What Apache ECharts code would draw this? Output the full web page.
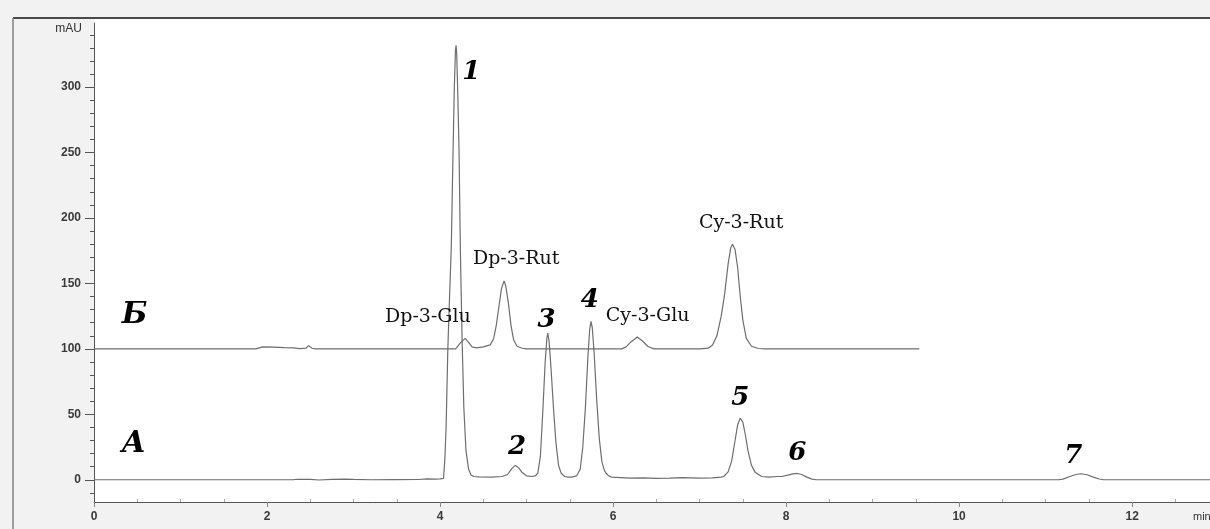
<!DOCTYPE html>
<html>
<head>
<meta charset="utf-8">
<script src="https://cdn.jsdelivr.net/npm/echarts@6/dist/echarts.min.js"></script>
<style>
html,body{margin:0;padding:0;background:#f2f2f2;}
#chart{width:1210px;height:529px;}
</style>
</head>
<body>
<div id="chart"></div>
<script>
// ---- data (time in min, absorbance in mAU) ----
const traceA = [
  [0,0],[2.3,0],[2.35,0.4],[2.5,0.3],[2.6,-0.2],[2.75,0.3],[2.9,0.5],[3.0,0.3],[3.2,0],[3.5,0.1],
  [3.75,0.2],[3.85,0.6],[3.95,0.5],[4.0,0.6],
  [4.04,1],[4.055,15],[4.07,40],[4.09,100],[4.11,140],[4.13,178],[4.15,250],[4.165,300],[4.178,328],
  [4.185,332],[4.193,325],[4.205,295],[4.22,250],[4.235,175],[4.255,107],[4.275,55],[4.3,22],
  [4.33,8],[4.36,3.5],[4.39,2.5],
  [4.45,2.2],[4.6,2],[4.72,2.5],[4.78,4],[4.83,8.5],[4.87,11],[4.91,9],[4.95,5.5],[5.0,3],[5.06,2.5],
  [5.1,3],[5.13,5],[5.16,18],[5.19,55],[5.215,90],[5.235,108],[5.245,112],[5.26,106],[5.28,88],
  [5.31,56],[5.34,28],[5.37,11],[5.4,5],[5.44,2.5],[5.48,2],
  [5.52,2],[5.58,3],[5.62,8],[5.65,25],[5.68,55],[5.71,95],[5.73,115],[5.745,121],[5.76,116],
  [5.78,98],[5.81,62],[5.84,32],[5.87,14],[5.9,7],[5.92,5],[5.95,3],[5.98,2],
  [6.0,1.8],[6.2,1.2],[6.35,1.5],[6.5,1.0],[6.65,1.2],[6.8,1.6],[7.0,1.2],[7.15,1.4],[7.25,2],
  [7.28,2.5],[7.33,6],[7.37,14],[7.41,30],[7.44,42],[7.47,47],[7.5,44],[7.53,34],[7.56,22],
  [7.6,11],[7.64,6],[7.68,4],[7.72,2.5],[7.8,2],[7.9,2.5],
  [7.95,2.5],[8.02,3.5],[8.08,4.5],[8.13,4.8],[8.18,4],[8.24,2],[8.3,0.5],[8.35,0],
  [9,0],[10,0],[11.15,0],[11.2,0.5],[11.28,2.5],[11.35,4],[11.41,4.6],[11.48,3.8],[11.55,2],
  [11.62,0.6],[11.67,0],[12.9,0]
];
const traceB = [
  [0,100],[1.87,100],[1.95,101.5],[2.08,101.3],[2.2,101],[2.3,100.8],[2.38,100.2],[2.45,100.5],
  [2.48,102.5],[2.52,100.5],[2.56,100],[4.18,100],
  [4.2,101],[4.24,105],[4.29,108],[4.33,105],[4.37,101.5],[4.42,100.8],[4.5,101.5],
  [4.58,103],[4.62,108],[4.65,118],[4.68,132],[4.71,146],[4.74,152],[4.76,148],[4.79,135],
  [4.82,118],[4.85,107],[4.89,102],[4.95,100.5],[5.0,100],
  [6.1,100],[6.15,101.5],[6.21,105.5],[6.28,109],[6.34,106],[6.4,102],[6.47,100],
  [7.0,100],[7.1,100.5],[7.15,103],[7.2,110],[7.25,125],[7.29,142],[7.33,165],[7.36,177],
  [7.38,180],[7.41,176],[7.44,162],[7.47,140],[7.5,122],[7.54,108],[7.6,102],[7.68,100.3],
  [7.75,100],[9.54,100]
];

const xTicks = [0,2,4,6,8,10,12];
const xMinorTicks = [0.5,1,1.5,2.5,3,3.5,4.5,5,5.5,6.5,7,7.5,8.5,9,9.5,10.5,11,11.5,12.5];
const yTicks = [0,50,100,150,200,250,300];
const yMinorTicks = [-10,0,10,20,30,40,50,60,70,80,90,100,110,120,130,140,150,160,170,180,190,200,
  210,220,230,240,250,260,270,280,290,300,310,320,330,340];

const peakLabels = ['1','2','3','4','5','6','7'];
const peakLabelX = [4.36,4.89,5.23,5.73,7.47,8.13,11.32];
const peakLabelY = [311,25,122,137,62,20,18];

const traceLabels = ['Б','А'];
const traceLabelX = [0.47,0.46];
const traceLabelY = [126,27];

const compoundLabels = ['Dp-3-Glu','Dp-3-Rut','Cy-3-Glu','Cy-3-Rut'];
const compoundLabelX = [3.86,4.88,6.40,7.48];
const compoundLabelY = [124,169,125,196];

const X_MIN = 0, X_MAX = 12.9, Y_MIN = -17, Y_MAX = 349;

function labelData(names, xs, ys){
  return names.map((n,i)=>({name:n, value:[xs[i], ys[i]]}));
}

const chart = echarts.init(document.getElementById('chart'), null, {renderer:'canvas'});
const lineColor = '#6e6e6e';
const axisColor = '#555';
const labelFont = {fontFamily:'Liberation Sans, Arial, sans-serif', fontSize:12, fontWeight:'bold', color:'#3a3a3a'};
const hiddenItem = {color:'rgba(0,0,0,0)', opacity:1};

chart.setOption({
  backgroundColor:'#f2f2f2',
  animation:false,
  grid:{left:94, right:0, top:23, bottom:27, show:true, backgroundColor:'#ffffff', borderWidth:0,
        containLabel:false, outerBoundsMode:'none'},
  xAxis:[
    {type:'value', min:X_MIN, max:X_MAX, position:'bottom',
     axisLine:{show:true, onZero:false, lineStyle:{color:axisColor, width:1}},
     axisTick:{show:true, inside:false, length:5, customValues:xTicks, lineStyle:{color:'#888'}},
     axisLabel:{show:true, margin:9, customValues:xTicks, ...labelFont},
     splitLine:{show:false}},
    {type:'value', min:X_MIN, max:X_MAX, position:'bottom',
     axisLine:{show:false, onZero:false},
     axisTick:{show:true, inside:true, length:3, customValues:xMinorTicks, lineStyle:{color:'#aaa'}},
     axisLabel:{show:false},
     splitLine:{show:false}}
  ],
  yAxis:[
    {type:'value', min:Y_MIN, max:Y_MAX, position:'left',
     axisLine:{show:true, onZero:false, lineStyle:{color:axisColor, width:1}},
     axisTick:{show:true, inside:false, length:9, customValues:yTicks, lineStyle:{color:axisColor}},
     axisLabel:{show:true, margin:13, customValues:yTicks, ...labelFont},
     splitLine:{show:false}},
    {type:'value', min:Y_MIN, max:Y_MAX, position:'left',
     axisLine:{show:false, onZero:false},
     axisTick:{show:true, inside:false, length:4, customValues:yMinorTicks, lineStyle:{color:axisColor}},
     axisLabel:{show:false},
     splitLine:{show:false}}
  ],
  series:[
    {name:'A', type:'line', data:traceA, showSymbol:false, symbol:'none', silent:true,
     lineStyle:{color:lineColor, width:1.2}, z:3},
    {name:'B', type:'line', data:traceB, showSymbol:false, symbol:'none', silent:true,
     lineStyle:{color:lineColor, width:1.2}, z:3},
    {name:'peaks', type:'scatter', data:labelData(peakLabels, peakLabelX, peakLabelY),
     symbolSize:1, itemStyle:hiddenItem, silent:true, z:5,
     label:{show:true, position:'inside', formatter:'{b}', color:'#000', textBorderWidth:0,
            fontFamily:'DejaVu Serif, serif', fontStyle:'italic', fontWeight:'bold', fontSize:26}},
    {name:'traces', type:'scatter', data:labelData(traceLabels, traceLabelX, traceLabelY),
     symbolSize:1, itemStyle:hiddenItem, silent:true, z:5,
     label:{show:true, position:'inside', formatter:'{b}', color:'#000', textBorderWidth:0,
            fontFamily:'DejaVu Serif, serif', fontStyle:'italic', fontWeight:'bold', fontSize:30}},
    {name:'compounds', type:'scatter', data:labelData(compoundLabels, compoundLabelX, compoundLabelY),
     symbolSize:1, itemStyle:hiddenItem, silent:true, z:5,
     label:{show:true, position:'inside', formatter:'{b}', color:'#111', textBorderWidth:0,
            fontFamily:'DejaVu Serif, serif', fontSize:19}}
  ],
  graphic:[
    {type:'rect', shape:{x:94, y:19, width:1116, height:5}, style:{fill:'#ffffff'}, silent:true, z:-1},
    {type:'line', shape:{x1:13, y1:18, x2:1210, y2:18}, style:{stroke:'#4a4a4a', lineWidth:2}, silent:true},
    {type:'line', shape:{x1:13, y1:18, x2:13, y2:529}, style:{stroke:'#808080', lineWidth:1.5}, silent:true},
    {type:'text', x:82, y:29, style:{text:'mAU', fill:'#333', font:'12px Liberation Sans, Arial, sans-serif',
      textAlign:'right', textVerticalAlign:'middle'}, silent:true},
    {type:'text', x:1193, y:517, style:{text:'min', fill:'#333', font:'11px Liberation Sans, Arial, sans-serif',
      textAlign:'left', textVerticalAlign:'middle'}, silent:true}
  ]
});
</script>
</body>
</html>
